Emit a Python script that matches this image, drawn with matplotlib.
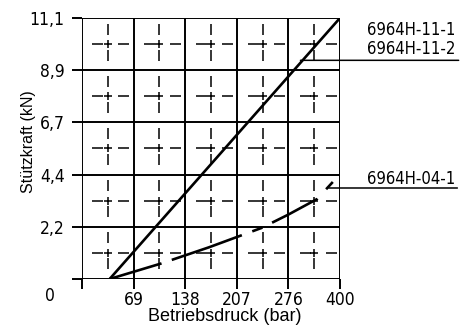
import matplotlib
matplotlib.use("Agg")
import matplotlib.pyplot as plt
import numpy as np

# pressure axis: last step (276 -> 400 bar) is drawn compressed to one grid cell
x_ticks = [0, 69, 138, 207, 276, 400]
x_labels = ["", "69", "138", "207", "276", "400"]
y_ticks = [0, 2.22, 4.44, 6.66, 8.88, 11.1]
y_labels = ["", "2,2", "4,4", "6,7", "8,9", "11,1"]

# 6964H-11-1 / 6964H-11-2
p_11 = [37, 400]
f_11 = [0.0, 11.1]

# 6964H-04-1
p_04 = [37, 106, 170, 240, 276, 345, 383]
f_04 = [0.0, 0.66, 1.35, 2.17, 2.74, 3.40, 4.13]


def fwd(x):
    x = np.asarray(x, dtype=float)
    return np.where(x <= 276, x, 276 + (x - 276) * 69.0 / 124.0)


def inv(x):
    x = np.asarray(x, dtype=float)
    return np.where(x <= 276, x, 276 + (x - 276) * 124.0 / 69.0)


plt.rcParams['lines.scale_dashes'] = False
tech = dict(family='DejaVu Sans', stretch='condensed')
sans = 'Liberation Sans'

fig = plt.figure(figsize=(4.69, 3.29), dpi=100)
ax = fig.add_axes([0.1748, 0.152, 0.5501, 0.7933])
ax.set_xscale('function', functions=(fwd, inv))
ax.set_xlim(0, 400)
ax.set_ylim(0, 11.1)

# dashed cross in the middle of each cell
mid_ls = (11.52, (7.92, 10.8))
x_mid = inv((fwd(x_ticks[:-1]) + fwd(x_ticks[1:])) / 2)
y_mid = [(a + b) / 2 for a, b in zip(y_ticks[:-1], y_ticks[1:])]
for xm in x_mid:
    ax.axvline(xm, color='k', lw=1.1, ls=mid_ls, zorder=1)
for ym in y_mid:
    ax.axhline(ym, color='k', lw=1.1, ls=mid_ls, zorder=1)
cx, cy = np.meshgrid(x_mid, y_mid)
ax.plot(cx.ravel(), cy.ravel(), ls='none', marker='+', ms=6, mew=1.1,
        color='k', zorder=1)

for xt in x_ticks:
    ax.axvline(xt, color='k', lw=1.4, zorder=2)
for yt in y_ticks:
    ax.axhline(yt, color='k', lw=1.4, zorder=2)

for s in ax.spines.values():
    s.set_visible(False)
ax.set_xticks(x_ticks)
ax.set_xticklabels(x_labels)
ax.set_yticks(y_ticks)
ax.set_yticklabels(y_labels)
ax.minorticks_off()
ax.tick_params(length=7.5, width=1.4, direction='out', pad=1, labelsize=12.5)
ax.tick_params(axis='y', pad=5)
for lab in ax.get_xticklabels() + ax.get_yticklabels():
    lab.set_family(tech['family'])
    lab.set_stretch(tech['stretch'])

ax.plot(p_11, f_11, color='k', lw=1.9, zorder=3, solid_capstyle='butt')
ax.plot(p_04, f_04, color='k', lw=1.9, zorder=3,
        ls=(0, (39, 7.8, 53.5, 8, 7.8, 7.8, 37, 9.2, 7.1, 100)))

ax.text(-0.124, -0.065, "0", transform=ax.transAxes, fontsize=12.5,
        ha='center', va='center', **tech)

# leaders and part numbers
ax.annotate("", xy=(305, 9.3), xytext=(1.46, 9.3),
            textcoords=('axes fraction', 'data'),
            arrowprops=dict(arrowstyle='-', lw=1.1, color='k', shrinkA=0, shrinkB=0),
            annotation_clip=False)
ax.text(1.105, 0.955, "6964H-11-1", transform=ax.transAxes, fontsize=12,
        va='center', ha='left', **tech)
ax.text(1.105, 0.88, "6964H-11-2", transform=ax.transAxes, fontsize=12,
        va='center', ha='left', **tech)
ax.annotate("", xy=(p_04[-1] - 10, 3.87), xytext=(1.455, 3.87),
            textcoords=('axes fraction', 'data'),
            arrowprops=dict(arrowstyle='-', lw=1.1, color='k', shrinkA=0, shrinkB=0),
            annotation_clip=False)
ax.text(1.105, 0.385, "6964H-04-1", transform=ax.transAxes, fontsize=12,
        va='center', ha='left', **tech)

ax.set_xlabel("Betriebsdruck (bar)", family=sans, fontsize=13)
ax.set_ylabel("Stützkraft (kN)", family=sans, fontsize=11.5)
ax.xaxis.set_label_coords(0.552, -0.112)
ax.yaxis.set_label_coords(-0.18, 0.525)

fig.savefig("out.png", dpi=100)
